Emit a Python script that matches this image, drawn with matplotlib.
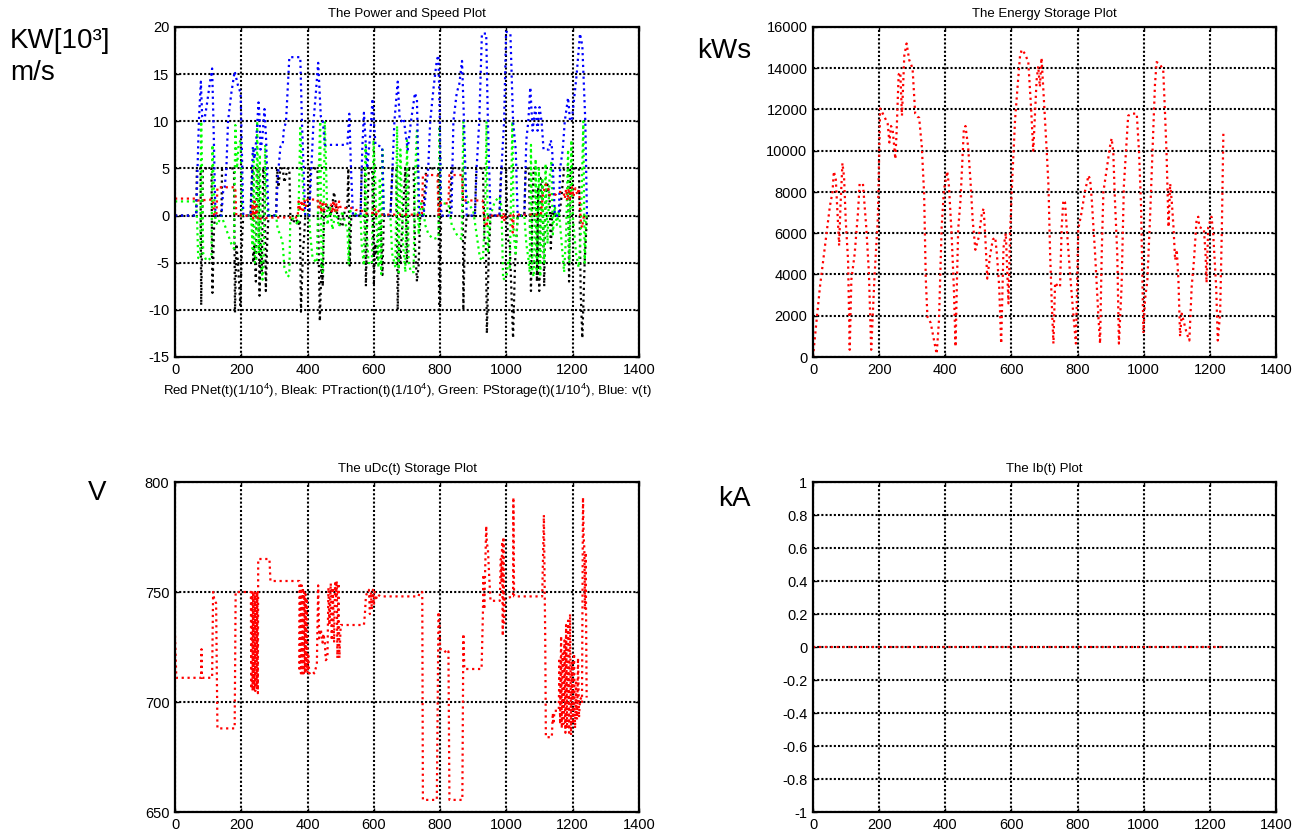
import matplotlib
matplotlib.use("Agg")
import matplotlib.pyplot as plt
import numpy as np

plt.rcParams['font.family'] = ['Liberation Sans', 'DejaVu Sans']
plt.rcParams['axes.unicode_minus'] = False
plt.rcParams['mathtext.fontset'] = 'custom'
plt.rcParams['mathtext.rm'] = 'Liberation Sans'

# ---- data: (t [s], value) ----
# speed v(t), m/s
speed = [(0, 0), (64, 0), (68, 5), (72, 10), (78, 14.2), (82, 10.5), (88, 10), (95, 11.5),
         (105, 14), (112, 15.6), (116, 10), (122, 0), (140, 0), (145, 2.5), (150, 3), (155, 5),
         (160, 10), (170, 13), (180, 15.3), (190, 13.8), (198, 13), (206, 0), (228, 0), (232, 4),
         (235, 7.3), (240, 6), (245, 8), (252, 12), (255, 10.5), (258, 7), (263, 8), (270, 11.3),
         (275, 8), (282, 0), (305, 0), (310, 4), (318, 7.3), (325, 7.5), (328, 9), (335, 10),
         (345, 16.8), (378, 16.8), (383, 10), (393, 0), (405, 0), (410, 4), (418, 10), (425, 13),
         (432, 16.2), (440, 10.5), (446, 10), (452, 7.5), (520, 7.5), (526, 10.8), (531, 5),
         (537, 0), (560, 0), (565, 7), (570, 10.9), (575, 8), (580, 5), (590, 9), (596, 12.4),
         (600, 10), (605, 7.5), (625, 7.3), (630, 0), (650, 0), (655, 4), (662, 10), (672, 14.2),
         (678, 10.2), (683, 10), (690, 10.3), (702, 7), (712, 10), (724, 13), (730, 12.3),
         (737, 0), (750, 0), (758, 3), (764, 5), (770, 10), (780, 13.5), (790, 16.5), (795, 17),
         (799, 10), (803, 0), (834, 0), (840, 10), (850, 13), (858, 14), (866, 16.4), (872, 10),
         (880, 0), (905, 0), (910, 5), (918, 10), (926, 19.3), (939, 19.3), (944, 10), (952, 0),
         (979, 0), (985, 5), (993, 10), (999, 19.5), (1012, 19.3), (1020, 10), (1028, 7),
         (1034, 0), (1054, 0), (1060, 8), (1066, 10), (1072, 13.6), (1079, 9), (1087, 11.5),
         (1094, 9), (1100, 11.5), (1106, 10), (1112, 7), (1128, 7), (1134, 8), (1138, 7),
         (1146, 0), (1158, 0), (1162, 5), (1170, 7), (1176, 10), (1186, 12.5), (1192, 10),
         (1198, 10.3), (1212, 15), (1222, 19.3), (1229, 18), (1238, 10), (1243, 0)]

# traction power, 1/10^4
p_traction = [(0, 0), (64, 0), (66, 5), (77, 5), (79, -9.5), (82, -2), (84, 5), (110, 5),
              (113, -8.2), (118, -1), (122, 0), (140, 0), (142, 5), (178, 5), (181, -10.3),
              (185, -3), (190, -5), (197, -9.5), (203, -2), (206, 0), (228, 0), (230, 2.5),
              (234, 5), (236, -5), (240, -3), (244, -7), (247, 5), (252, 5), (255, -8.5),
              (258, -3), (262, -6), (266, 5), (270, 4), (274, -8), (278, -3), (282, 0), (305, 0),
              (308, 5), (312, 3), (318, 5), (325, 5), (330, 3.5), (340, 5), (345, 5), (348, 0),
              (355, -0.8), (365, -0.3), (372, -1), (377, -0.5), (380, -10.2), (386, -4),
              (390, -2), (393, 0), (405, 0), (408, 5), (430, 5), (434, -5), (437, -11.2),
              (442, -5), (446, -7.5), (450, 0.5), (460, 1.2), (470, 0), (480, 2.5), (490, 0),
              (500, -1), (505, -1.2), (512, 0.5), (520, 1), (523, 5), (527, -5.3), (532, 0),
              (537, 0), (560, 0), (563, 5), (573, 5), (576, -7.5), (580, 0), (585, 5), (595, 5),
              (600, -7.2), (604, -3), (610, -4.5), (615, -1), (620, -0.5), (626, -6.3), (630, 0),
              (650, 0), (656, 5), (668, 5), (672, -10), (676, -3), (680, -5), (688, 0.5),
              (695, 5), (700, -5), (706, 5), (720, 5), (724, -3), (730, -7), (735, -5.3),
              (740, 0), (748, 0), (752, 2), (758, 5), (795, 5), (797, -10), (800, -10),
              (803, 0.5), (830, 0.5), (834, 5), (868, 5), (870, -10), (874, -3), (880, 0),
              (905, 0), (909, 5), (929, 5), (934, -2.5), (938, -3), (941, -12.5), (946, -5),
              (952, 0), (979, 0), (984, 5), (999, 5), (1004, -2.5), (1010, -3), (1020, -13),
              (1026, -5), (1034, 0), (1054, 0), (1058, 5), (1068, 5), (1074, -8), (1078, 0),
              (1082, 5), (1088, 5), (1092, -7), (1096, 3), (1099, -8), (1104, 4), (1108, 4),
              (1114, -7.5), (1118, 2), (1124, 3.3), (1130, 2), (1134, -3.5), (1138, 0.5),
              (1146, 0), (1160, 0), (1166, 2), (1174, 5), (1186, 5), (1189, -7), (1192, 5),
              (1219, 5), (1224, -8), (1229, -13), (1236, -5), (1243, 0)]

# storage power, 1/10^4
p_storage = [(0, 1.5), (64, 1.5), (67, -1), (70, -4.5), (76, -4.5), (79, 10), (82, 4), (85, -4),
             (95, -4.8), (110, -4.5), (113, 7.5), (117, 3), (122, -0.5), (128, -1), (140, 0),
             (150, -1), (160, -2), (170, -3), (178, -3.5), (182, 9.6), (187, 5), (192, 7.5),
             (198, 8), (203, 0), (228, 0), (231, -1), (234, -3.5), (237, 7), (241, -5),
             (245, -5), (248, 10), (253, -4), (256, 6.5), (260, -5), (264, -6.8), (268, -4),
             (272, 7.5), (277, 1), (282, 0), (305, 0), (310, -1.5), (318, -2), (325, -3),
             (330, -5.5), (340, -6.5), (345, -6.3), (348, 0), (360, -0.5), (372, -1),
             (378, 9.3), (383, 5), (390, 0.5), (405, 0), (408, -2), (415, -4.5), (428, -5),
             (434, 5), (438, 10), (442, -5.5), (446, -6), (452, 10), (456, 5), (460, -1),
             (468, 1), (475, -1.5), (485, 0.5), (495, -1.2), (505, 0.5), (515, -1), (520, -1.2),
             (524, -5.2), (528, 0.5), (535, 0.3), (560, 0), (563, -3), (570, -5.3), (575, 7.5),
             (579, -2), (584, -5), (594, -5.2), (599, 8), (604, 4), (608, -1), (614, -5.5),
             (618, 4), (622, -6.2), (626, 7), (630, 0), (650, 0), (655, -4), (665, -5.5),
             (670, 9.5), (675, -6), (680, 7), (688, -3), (695, -6), (700, 8), (705, -5),
             (712, -6), (720, -6), (724, 4), (730, 9), (735, -2), (742, 1.3), (748, 1),
             (755, -1), (765, -2), (780, -2.5), (795, -2.3), (798, 9.5), (803, 1.5), (810, 1.3),
             (825, 1.2), (835, -1), (850, -2), (865, -2.5), (870, 10), (875, 3), (885, 1.3),
             (900, 0.5), (910, -2), (920, -4.5), (929, -4.8), (936, 1), (940, 10), (944, -4),
             (952, 0), (965, 1.5), (979, 2), (985, 1), (990, -6.8), (1000, -6.5), (1005, -5),
             (1010, -5.5), (1018, 10), (1022, -2), (1028, -4), (1034, 0), (1054, 0), (1060, -3),
             (1066, -4.5), (1070, -6), (1074, 7.5), (1078, -6), (1083, -6.5), (1088, 6),
             (1092, -6), (1098, 5), (1102, -6.5), (1108, 4), (1114, -5), (1118, 5.5),
             (1124, -3), (1130, 4), (1136, 5.8), (1140, -2), (1146, 1), (1152, -1), (1158, 0.5),
             (1162, -1), (1168, -3.5), (1174, -6), (1180, -2), (1186, 7), (1190, -5), (1196, 8),
             (1200, 0), (1210, -4), (1218, -5.5), (1224, -2), (1232, 10), (1236, -5), (1241, 0)]

# net power, 1/10^4
p_net = [(0, 1.8), (65, 1.8), (68, 1.6), (115, 1.7), (118, 0), (125, 0), (128, 3), (182, 3),
         (185, 0), (230, 0), (234, 1.2), (236, -0.3), (240, 1.5), (243, 0), (246, 1),
         (250, -0.5), (260, -0.3), (300, -0.2), (370, -0.2), (373, 1.5), (378, 0.5),
         (382, 1.6), (386, 0.3), (390, 1.7), (395, 1), (400, 1.7), (430, 1.7), (434, 0.6),
         (438, 1.4), (442, 0.3), (446, 1.5), (450, 0.6), (455, 1.2), (470, 1.2), (474, 0.3),
         (478, 1.6), (482, 0.5), (486, 1.4), (490, 0.4), (495, 1.5), (500, 0.8), (540, 0.8),
         (545, 0.6), (565, 0.5), (570, 0.2), (600, 0.3), (603, 0.7), (607, 0.1), (612, 0.6),
         (620, 0.1), (745, 0.1), (748, 4.3), (792, 4.3), (795, 0), (800, 1.3), (825, 1.3),
         (828, 4.3), (866, 4.3), (869, 1.6), (928, 1.6), (932, 0), (936, -0.8), (940, -1.2),
         (945, 0), (985, 0), (988, -0.5), (991, 0.3), (994, -0.6), (998, 0), (1016, 0),
         (1019, -1.8), (1022, 0.1), (1104, 0.1), (1110, 2.2), (1118, 3.3), (1124, 3.2),
         (1130, 2.2), (1148, 2.2), (1155, 2.5), (1172, 2.5), (1176, 1.8), (1180, 2.8),
         (1184, 1.6), (1188, 2.9), (1192, 1.8), (1198, 3), (1202, 2), (1208, 2.9),
         (1214, 2.2), (1219, 2.9), (1224, -0.5), (1228, -1.3), (1234, 0), (1243, 0)]

# stored energy, kWs
energy = [(0, 0), (6, 1000), (11, 1800), (21, 3400), (31, 4700), (41, 6000), (51, 7300),
          (59, 8000), (63, 9000), (69, 8600), (73, 7300), (79, 5400), (83, 7300), (89, 9400),
          (94, 8700), (99, 6600), (106, 4700), (111, 350), (116, 3750), (126, 5000),
          (136, 7000), (141, 8400), (151, 8400), (161, 6300), (169, 4100), (176, 350),
          (186, 3900), (196, 6700), (203, 12050), (216, 11650), (226, 11300), (231, 10400),
          (236, 11200), (241, 11000), (249, 9600), (253, 11000), (259, 13700), (264, 13800),
          (269, 11700), (276, 14600), (283, 15200), (291, 14400), (301, 14000), (309, 11800),
          (316, 11650), (321, 11600), (329, 10200), (336, 7900), (341, 3800), (346, 1950),
          (356, 1650), (366, 800), (374, 150), (381, 1800), (389, 6300), (396, 8100),
          (406, 9000), (411, 8300), (419, 6000), (426, 3300), (431, 500), (435, 3500),
          (439, 6200), (446, 7600), (451, 9300), (456, 11000), (461, 11200), (469, 10200),
          (476, 8600), (483, 6600), (491, 5200), (501, 5800), (511, 7000), (516, 7200),
          (521, 5800), (527, 3800), (536, 5000), (544, 5700), (551, 5800), (556, 5000),
          (563, 3400), (569, 650), (576, 5300), (583, 6000), (591, 2600), (596, 6000),
          (603, 8800), (611, 11500), (619, 13200), (626, 14600), (631, 14900), (641, 14700),
          (651, 14300), (659, 12200), (666, 10000), (671, 11700), (676, 13400), (681, 14100),
          (686, 13100), (691, 14500), (696, 13100), (707, 9900), (712, 8300), (717, 5000),
          (722, 2600), (727, 650), (732, 3600), (742, 3400), (747, 3400), (752, 6300),
          (757, 7600), (762, 7500), (767, 6300), (777, 4100), (787, 2100), (795, 650),
          (802, 6200), (812, 7000), (822, 8000), (833, 8800), (838, 8600), (843, 7600),
          (853, 5000), (863, 1950), (868, 650), (873, 5000), (878, 8000), (888, 9100),
          (898, 10200), (903, 10600), (908, 9900), (913, 7600), (920, 5000), (925, 650),
          (933, 3400), (940, 8300), (946, 9900), (953, 11700), (964, 11800), (979, 11800),
          (986, 9900), (992, 7300), (999, 1150), (1004, 2800), (1011, 3700), (1019, 6700),
          (1027, 10200), (1034, 13200), (1039, 14300), (1049, 14200), (1059, 13900),
          (1064, 12000), (1069, 9900), (1075, 6300), (1080, 8400), (1085, 7500), (1090, 6300),
          (1095, 4700), (1100, 5200), (1105, 3700), (1110, 1000), (1115, 2100), (1122, 1650),
          (1130, 1150), (1138, 800), (1145, 3400), (1152, 4700), (1160, 6700), (1165, 6800),
          (1168, 6300), (1182, 6200), (1187, 5000), (1190, 3600), (1195, 6300), (1205, 6800),
          (1210, 6000), (1219, 3400), (1224, 800), (1231, 2100), (1236, 6000), (1241, 11000)]

# DC link voltage, V
u_dc = [(0, 730), (4, 711), (79, 711), (80, 724), (81, 712), (83, 711), (112, 711), (115, 750),
        (119, 746), (124, 745), (128, 688), (180, 688), (183, 750), (229, 750), (230, 706),
        (232, 750), (234, 705), (236, 750), (238, 705), (240, 750), (242, 705), (244, 750),
        (246, 706), (248, 750), (250, 704), (251, 765), (285, 765), (288, 755), (375, 755),
        (376, 714), (378, 753), (380, 713), (382, 753), (384, 713), (386, 752), (388, 713),
        (390, 750), (392, 713), (394, 749), (396, 714), (398, 747), (400, 713), (402, 722),
        (405, 713), (415, 714), (420, 713), (428, 717), (432, 753), (435, 729), (440, 733),
        (445, 727), (448, 731), (452, 727), (455, 719), (460, 720), (463, 752), (466, 735),
        (470, 754), (473, 728), (476, 752), (480, 727), (483, 754), (486, 748), (488, 755),
        (490, 720), (493, 754), (496, 720), (500, 735), (570, 735), (573, 740), (576, 748),
        (580, 750), (585, 751), (588, 740), (591, 750), (594, 742), (597, 751), (600, 744),
        (603, 750), (606, 746), (610, 749), (620, 748), (735, 748), (738, 750), (746, 750),
        (748, 655.5), (790, 655.5), (795, 741), (798, 735), (800, 724), (810, 724), (820, 722),
        (825, 723), (828, 655.5), (867, 655.5), (870, 731), (873, 715), (925, 715), (929, 740),
        (931, 758), (933, 742), (936, 760), (939, 780), (941, 772), (944, 770), (948, 757),
        (952, 746), (980, 746), (983, 765), (985, 755), (987, 773), (989, 730), (991, 775),
        (993, 736), (995, 747), (1020, 748), (1021, 793), (1023, 748), (1108, 748),
        (1113, 785), (1117, 730), (1119, 684), (1137, 684), (1140, 695), (1142, 690),
        (1145, 696), (1158, 696), (1160, 720), (1162, 690), (1165, 730), (1167, 688),
        (1170, 722), (1172, 690), (1175, 728), (1178, 686), (1180, 735), (1183, 688),
        (1186, 737), (1189, 686), (1192, 740), (1195, 685), (1198, 718), (1201, 690),
        (1204, 722), (1207, 688), (1210, 710), (1213, 692), (1216, 720), (1219, 693),
        (1222, 701), (1226, 702), (1228, 700), (1231, 793), (1233, 775), (1235, 770),
        (1237, 742), (1239, 768), (1240, 745), (1242, 702)]

# battery current, kA
i_b = [(0, 0), (1243, 0)]

W, H = 1303, 838
fig = plt.figure(figsize=(W / 100, H / 100), dpi=100)


def make_ax(left, top, right, bottom):
    ax = fig.add_axes([left / W, 1 - bottom / H, (right - left) / W, (bottom - top) / H])
    ax.grid(True, color='k', linestyle=(0, (1, 1)), linewidth=1.5)
    ax.set_axisbelow(True)
    for s in ax.spines.values():
        s.set_linestyle((0, (1, 1)))
        s.set_linewidth(1.6)
    ax.tick_params(direction='in', length=3, width=1, top=True, right=True,
                   labelsize=10.5, pad=4)
    ax.set_xlim(0, 1400)
    ax.set_xticks(np.arange(0, 1401, 200))
    return ax


def draw(ax, series, color):
    t, y = np.array(series).T
    ax.plot(t, y, linestyle=':', color=color, linewidth=1.6)


# power and speed
ax1 = make_ax(175, 27, 639, 357)
draw(ax1, p_traction, 'k')
draw(ax1, p_storage, '#00ff00')
draw(ax1, speed, '#0000ff')
draw(ax1, p_net, '#ff0000')
ax1.set_ylim(-15, 20)
ax1.set_yticks(np.arange(-15, 21, 5))
ax1.set_title('The Power and Speed Plot', fontsize=9.5, pad=7)
ax1.set_xlabel(r'Red PNet(t)(1/10$^4$), Bleak: PTraction(t)(1/10$^4$), '
               r'Green: PStorage(t)(1/10$^4$), Blue: v(t)', fontsize=9.5, labelpad=4)

# energy
ax2 = make_ax(813, 27, 1276, 357)
draw(ax2, energy, '#ff0000')
ax2.set_ylim(0, 16000)
ax2.set_yticks(np.arange(0, 16001, 2000))
ax2.set_title('The Energy Storage Plot', fontsize=9.5, pad=7)

# uDc
ax3 = make_ax(175, 482, 639, 812)
draw(ax3, u_dc, '#ff0000')
ax3.set_ylim(650, 800)
ax3.set_yticks([650, 700, 750, 800])
ax3.set_title('The uDc(t) Storage Plot', fontsize=9.5, pad=7)

# Ib
ax4 = make_ax(813, 482, 1276, 812)
draw(ax4, i_b, '#ff0000')
ax4.set_ylim(-1, 1)
ax4.set_yticks(np.linspace(-1, 1, 11))
ax4.yaxis.set_major_formatter(matplotlib.ticker.FuncFormatter(lambda v, p: '%g' % round(v, 1)))
ax4.set_title('The Ib(t) Plot', fontsize=9.5, pad=7)

# unit labels
fig.text(10 / W, 1 - 28 / H, 'KW[10³]\nm/s', fontsize=20, va='top', ha='left', linespacing=1.3)
fig.text(697 / W, 1 - 38 / H, 'kWs', fontsize=20, va='top', ha='left')
fig.text(88 / W, 1 - 480 / H, 'V', fontsize=20, va='top', ha='left')
fig.text(718 / W, 1 - 486 / H, 'kA', fontsize=20, va='top', ha='left')

fig.savefig('out.png', dpi=100)
